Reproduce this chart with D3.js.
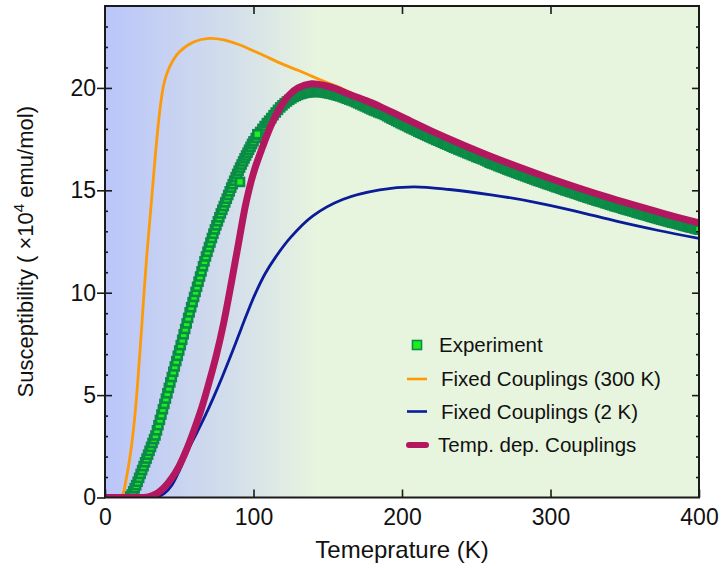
<!DOCTYPE html>
<html><head><meta charset="utf-8">
<script src="https://cdn.jsdelivr.net/npm/d3@7"></script>
<style>
body{margin:0;background:#fff}
svg{display:block}
text{font-family:"Liberation Sans",Arial,Helvetica,sans-serif;fill:#111}
</style>
</head><body>
<svg id="chart" width="721" height="570"></svg>
<script>
// ---------- data ----------
const xTicks = [0, 100, 200, 300, 400];
const yTicks = [0, 5, 10, 15, 20];
const yMinorTicks = [1,2,3,4,6,7,8,9,11,12,13,14,16,17,18,19,21,22,23];

// Experiment: [T (K), chi (x10^4 emu/mol)]
const experiment = [
[17,0.05],[18,0.15],[19,0.3],[20,0.45],[21,0.6],[22,0.77],[23,0.96],[24,1.15],[25,1.34],[26,1.53],
[27,1.72],[28,1.9],[29,2.09],[30,2.28],[31,2.47],[32,2.66],[33,2.85],[34,3.03],[35,3.28],[36,3.53],
[37,3.79],[38,4.05],[39,4.31],[40,4.57],[41,4.83],[42,5.09],[43,5.35],[44,5.62],[45,5.88],[46,6.14],
[47,6.4],[48,6.66],[49,6.92],[50,7.18],[51,7.44],[52,7.7],[53,7.97],[54,8.23],[55,8.5],[56,8.77],
[57,9.04],[58,9.29],[59,9.54],[60,9.79],[61,10.04],[62,10.29],[63,10.54],[64,10.79],[65,11.04],[66,11.29],
[67,11.53],[68,11.77],[69,12.0],[70,12.23],[71,12.45],[72,12.67],[73,12.88],[74,13.09],[75,13.29],[76,13.49],
[77,13.68],[78,13.87],[79,14.05],[80,14.23],[81,14.41],[82,14.59],[83,14.77],[84,14.95],[85,15.13],[86,15.3],
[87,15.47],[88,15.64],[89,15.8],[90,15.96],[91,16.11],[92,16.26],[93,16.41],[94,16.56],[95,16.7],[96,16.84],
[97,16.98],[98,17.12],[99,17.26],[100,17.39],
[101.5,17.55],[103,17.7],[104.5,17.85],[106,18.0],[107.5,18.14],[109,18.28],[110.5,18.4],[112,18.53],[113.5,18.67],
[115,18.8],[116.5,18.93],[118,19.05],[119.5,19.15],[121,19.25],[122.5,19.34],[124,19.42],[125.5,19.49],[127,19.56],
[128.5,19.61],[130,19.66],[131.5,19.7],[133,19.73],[134.5,19.76],[136,19.78],[137.5,19.79],[139,19.8],[140.5,19.81],
[142,19.81],[143.5,19.81],[145,19.8],[146.5,19.79],[148,19.77],[149.5,19.75],[151,19.73],[152.5,19.71],[154,19.68],
[155.5,19.65],[157,19.62],[158.5,19.59],[160,19.55],[161.5,19.51],[163,19.47],[164.5,19.43],[166,19.39],[167.5,19.35],
[169,19.3],[170.5,19.25],[172,19.2],[173.5,19.15],[175,19.1],[176.5,19.05],[178,19.0],[179.5,18.95],[181,18.9],
[182.5,18.86],[184,18.81],[185.5,18.77],[187,18.73],[188.5,18.68],[190,18.62],[191.5,18.56],[193,18.5],[194.5,18.45],
[196,18.39],[197.5,18.34],[199,18.28],[200.5,18.23],[202,18.18],[203.5,18.13],[205,18.07],[206.5,18.02],[208,17.97],
[209.5,17.92],[211,17.86],[212.5,17.81],[214,17.76],[215.5,17.71],[217,17.66],[218.5,17.61],[220,17.56],[221.5,17.51],
[223,17.46],[224.5,17.42],[226,17.37],[227.5,17.32],[229,17.27],[230.5,17.23],[232,17.18],[233.5,17.13],[235,17.08],
[236.5,17.04],[238,16.99],[239.5,16.95],[241,16.9],[242.5,16.86],[244,16.81],[245.5,16.77],[247,16.72],[248.5,16.68],
[250,16.63],[251.5,16.59],[253,16.55],[254.5,16.51],[256,16.46],[257.5,16.41],[259,16.35],[260.5,16.31],[262,16.27],
[263.5,16.23],[265,16.18],[266.5,16.14],[268,16.1],[269.5,16.06],[271,16.01],[272.5,15.97],[274,15.93],[275.5,15.89],
[277,15.85],[278.5,15.81],[280,15.77],[281.5,15.73],[283,15.69],[284.5,15.65],[286,15.61],[287.5,15.57],[289,15.53],
[290.5,15.49],[292,15.45],[293.5,15.42],[295,15.38],[296.5,15.34],[298,15.3],[299.5,15.27],[301,15.23],[302.5,15.19],
[304,15.15],[305.5,15.12],[307,15.08],[308.5,15.04],[310,15.0],[311.5,14.97],[313,14.93],[314.5,14.9],[316,14.86],
[317.5,14.83],[319,14.79],[320.5,14.75],[322,14.71],[323.5,14.68],[325,14.64],[326.5,14.61],[328,14.57],[329.5,14.54],
[331,14.5],[332.5,14.47],[334,14.44],[335.5,14.41],[337,14.37],[338.5,14.34],[340,14.3],[341.5,14.27],[343,14.23],
[344.5,14.2],[346,14.17],[347.5,14.14],[349,14.1],[350.5,14.07],[352,14.04],[353.5,14.01],[355,13.98],[356.5,13.95],
[358,13.91],[359.5,13.88],[361,13.85],[362.5,13.82],[364,13.79],[365.5,13.76],[367,13.72],[368.5,13.69],[370,13.66],
[371.5,13.63],[373,13.6],[374.5,13.57],[376,13.54],[377.5,13.51],[379,13.48],[380.5,13.45],[382,13.42],[383.5,13.4],
[385,13.37],[386.5,13.34],[388,13.31],[389.5,13.28],[391,13.25],[392.5,13.22],[394,13.19],[395.5,13.17],[397,13.14],
[398.5,13.11],[400,13.08],
[90.9,15.41],[102.6,17.74]
];

// Fixed couplings (300 K)
const fixed300 = [
[0,0],[10,0],[12,0.15],[14,0.8],[16,1.6],[18,2.6],[20,3.9],[22,5.6],[24,7.6],[26,9.7],[28,11.7],
[30,13.4],[32,15.1],[34,16.8],[36,18.3],[38,19.5],[40,20.3],[44,21.1],[50,21.75],[60,22.25],[70,22.42],
[80,22.35],[90,22.12],[104,21.68],[120,21.15],[130,20.86],[140,20.55],[150,20.25],[158,20.02],[170,19.6],
[185,19.1],[200,18.55],[230,17.5],[260,16.6],[300,15.55],[340,14.6],[370,14.0],[400,13.38]
];

// Fixed couplings (2 K)
const fixed2 = [
[0,0],[30,0],[35,0.03],[40,0.2],[45,0.6],[50,1.3],[56,2.32],[62,3.18],[67,3.92],[73,4.88],[79,5.9],
[85,6.98],[90,7.92],[95,8.86],[101,9.92],[108,10.95],[115,11.75],[125,12.7],[140,13.75],[160,14.55],
[185,15.02],[208,15.17],[232,15.04],[260,14.78],[288,14.44],[316,14.0],[345,13.48],[372,13.05],[400,12.65]
];

// Temperature dependent couplings
const tempDep = [
[0,0],[20,0],[28,0.02],[32,0.1],[36,0.25],[40,0.5],[45,0.95],[50,1.55],[55,2.35],[60,3.3],[65,4.35],
[70,5.6],[75,6.95],[80,8.55],[85,10.45],[90,12.45],[95,14.4],[100,15.85],[106,17.1],[112,18.2],[118,19.05],
[124,19.65],[130,20.0],[139,20.2],[148,20.12],[155,19.97],[163,19.73],[175,19.4],[185,19.1],[200,18.58],
[220,17.89],[240,17.25],[260,16.65],[280,16.1],[300,15.58],[320,15.09],[340,14.63],[360,14.2],[380,13.79],[400,13.41]
];

const legendLabels = ["Experiment", "Fixed Couplings (300 K)", "Fixed Couplings (2 K)", "Temp. dep. Couplings"];

// ---------- styles ----------
const C = {
  orange: "#fd9a08", blue: "#0b1c98", magenta: "#b3175f",
  sqFill: "#1cf01c", sqStroke: "#0b8b47", axis: "#1a1a1a"
};

const svg = d3.select("#chart");
const L = 105, R = 699, T = 6, B = 497.5;
const x = d3.scaleLinear().domain([0, 400]).range([L, R]);
const y = d3.scaleLinear().domain([0, 24]).range([B, T]);

// background gradient
const defs = svg.append("defs");
const grad = defs.append("linearGradient").attr("id", "bg")
  .attr("gradientUnits", "userSpaceOnUse")
  .attr("x1", x(0)).attr("x2", x(145)).attr("y1", 0).attr("y2", 0);
grad.append("stop").attr("offset", "0%").attr("stop-color", "#bac5fa");
grad.append("stop").attr("offset", "55%").attr("stop-color", "#d1dcec");
grad.append("stop").attr("offset", "100%").attr("stop-color", "#e8f5de");
defs.append("clipPath").attr("id", "clip").append("rect")
  .attr("x", L).attr("y", T).attr("width", R - L).attr("height", B - T);

svg.append("rect").attr("x", L).attr("y", T).attr("width", R - L).attr("height", B - T)
  .attr("fill", "url(#bg)");

const plot = svg.append("g").attr("clip-path", "url(#clip)");
const line = d3.line().x(d => x(d[0])).y(d => y(d[1])).curve(d3.curveCatmullRom.alpha(0.5));

plot.append("path").datum(fixed300).attr("d", line)
  .attr("fill", "none").attr("stroke", C.orange).attr("stroke-width", 2.8);
plot.append("path").datum(fixed2).attr("d", line)
  .attr("fill", "none").attr("stroke", C.blue).attr("stroke-width", 2.8);

const sq = 8;
plot.append("g").selectAll("rect").data(experiment).join("rect")
  .attr("x", d => x(d[0]) - sq / 2).attr("y", d => y(d[1]) - sq / 2)
  .attr("width", sq).attr("height", sq)
  .attr("fill", C.sqFill).attr("stroke", C.sqStroke).attr("stroke-width", 2.6);

plot.append("path").datum(tempDep).attr("d", line)
  .attr("fill", "none").attr("stroke", C.magenta).attr("stroke-width", 7)
  .attr("stroke-linecap", "round").attr("stroke-linejoin", "round");

// ---------- axes ----------
const fmt = d3.format("d");
function styleAxis(g) {
  g.select(".domain").remove();
  g.selectAll("line").attr("stroke", C.axis).attr("stroke-width", 1.6);
  g.selectAll("text").style("font-size", "23px").attr("fill", "#111");
}
// bottom
svg.append("g").attr("transform", `translate(0,${B})`)
  .call(d3.axisBottom(x).tickValues(xTicks).tickFormat(fmt).tickSizeInner(-8).tickSizeOuter(0).tickPadding(11))
  .call(styleAxis);
// top
svg.append("g").attr("transform", `translate(0,${T})`)
  .call(d3.axisTop(x).tickValues(xTicks.slice(1, -1)).tickFormat("").tickSizeInner(-8).tickSizeOuter(0))
  .call(styleAxis);
// left major (outer part with labels)
svg.append("g").attr("transform", `translate(${L},0)`)
  .call(d3.axisLeft(y).tickValues(yTicks).tickFormat(fmt).tickSizeInner(8).tickSizeOuter(0).tickPadding(1))
  .call(styleAxis);
// left major inner part
svg.append("g").attr("transform", `translate(${L},0)`)
  .call(d3.axisLeft(y).tickValues(yTicks.slice(1)).tickFormat("").tickSizeInner(-7).tickSizeOuter(0))
  .call(styleAxis);
// left minor
svg.append("g").attr("transform", `translate(${L},0)`)
  .call(d3.axisLeft(y).tickValues(yMinorTicks).tickFormat("").tickSizeInner(-3).tickSizeOuter(0))
  .call(styleAxis);
// right major + minor
svg.append("g").attr("transform", `translate(${R},0)`)
  .call(d3.axisRight(y).tickValues(yTicks.slice(1)).tickFormat("").tickSizeInner(-7).tickSizeOuter(0))
  .call(styleAxis);
svg.append("g").attr("transform", `translate(${R},0)`)
  .call(d3.axisRight(y).tickValues(yMinorTicks).tickFormat("").tickSizeInner(-3).tickSizeOuter(0))
  .call(styleAxis);

// frame
svg.append("rect").attr("x", L).attr("y", T).attr("width", R - L).attr("height", B - T)
  .attr("fill", "none").attr("stroke", C.axis).attr("stroke-width", 2);

// axis titles
svg.append("text").attr("x", (L + R) / 2).attr("y", 558).attr("text-anchor", "middle")
  .style("font-size", "24px").text("Temeprature (K)");

const yl = svg.append("text").attr("transform", `translate(33,${(T + B) / 2}) rotate(-90)`)
  .attr("text-anchor", "middle").style("font-size", "22px");
yl.append("tspan").text("Susceptibility ");
yl.append("tspan").style("font-weight", "300").text("(");
yl.append("tspan").text(" ×10");
yl.append("tspan").attr("dy", -9).style("font-size", "15px").text("4");
yl.append("tspan").attr("dy", 9).text(" emu/mol");
yl.append("tspan").text(")");

// ---------- legend ----------
const lg = svg.append("g").style("font-size", "20.5px");
const rows = [345, 379, 411.5, 445];
const txX = [439, 441, 441, 438];
lg.append("rect").attr("x", 417 - 4.5).attr("y", rows[0] - 4.5).attr("width", 9).attr("height", 9)
  .attr("fill", C.sqFill).attr("stroke", C.sqStroke).attr("stroke-width", 1.6);
lg.append("line").attr("x1", 407).attr("x2", 427).attr("y1", rows[1]).attr("y2", rows[1])
  .attr("stroke", C.orange).attr("stroke-width", 2.6);
lg.append("line").attr("x1", 407).attr("x2", 427).attr("y1", rows[2]).attr("y2", rows[2])
  .attr("stroke", C.blue).attr("stroke-width", 2.6);
lg.append("line").attr("x1", 409).attr("x2", 426).attr("y1", rows[3]).attr("y2", rows[3])
  .attr("stroke", C.magenta).attr("stroke-width", 6).attr("stroke-linecap", "round");
legendLabels.forEach((t, i) => {
  lg.append("text").attr("x", txX[i]).attr("y", rows[i]).attr("dy", "0.36em").text(t);
});
</script>
</body></html>
